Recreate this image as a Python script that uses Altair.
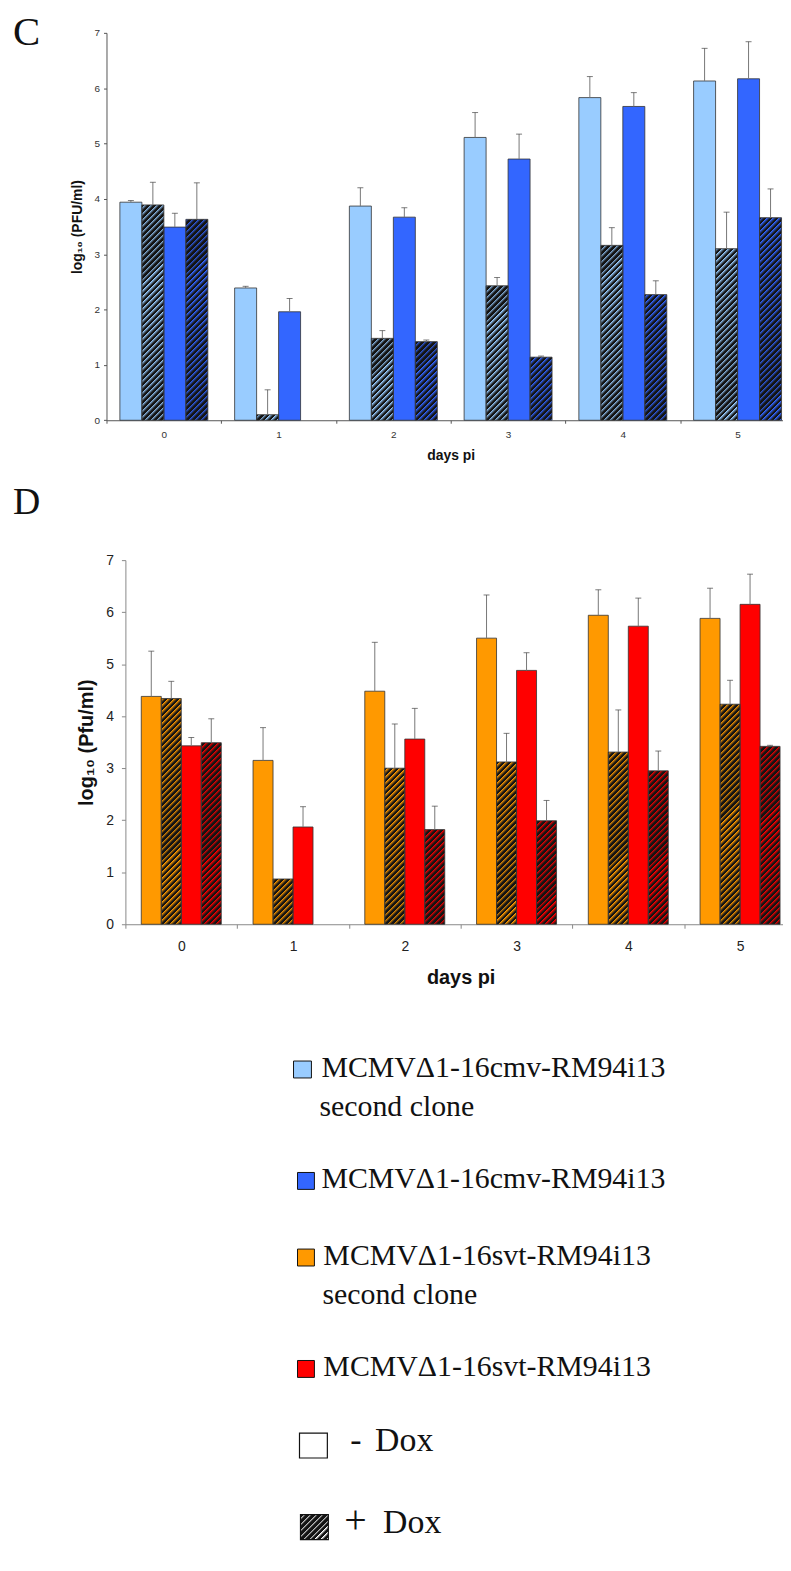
import altair as alt

# ---------------- data ----------------
DAYS = ["0", "1", "2", "3", "4", "5"]

C_SERIES = ["cmv second clone - Dox", "cmv second clone + Dox", "cmv - Dox", "cmv + Dox"]
C_COLORS = ["#99CCFF", "#99CCFF", "#3366FF", "#3366FF"]
C_HATCHED = [False, True, False, True]
C_VALUES = [
    [3.94, 2.39, 3.87, 5.11, 5.83, 6.13],
    [3.89, 0.10, 1.48, 2.43, 3.16, 3.10],
    [3.49, 1.96, 3.67, 4.72, 5.67, 6.17],
    [3.63, None, 1.42, 1.14, 2.27, 3.66],
]
C_ERRORS = [
    [0.03, 0.03, 0.33, 0.45, 0.38, 0.59],
    [0.41, 0.45, 0.14, 0.15, 0.32, 0.66],
    [0.25, 0.24, 0.17, 0.45, 0.25, 0.67],
    [0.66, None, 0.03, 0.02, 0.25, 0.52],
]

D_SERIES = ["svt second clone - Dox", "svt second clone + Dox", "svt - Dox", "svt + Dox"]
D_COLORS = ["#FF9900", "#FF9900", "#FF0000", "#FF0000"]
D_HATCHED = [False, True, False, True]
D_VALUES = [
    [4.38, 3.15, 4.48, 5.50, 5.94, 5.88],
    [4.34, 0.87, 3.00, 3.12, 3.31, 4.23],
    [3.43, 1.87, 3.56, 4.88, 5.73, 6.15],
    [3.49, None, 1.82, 1.99, 2.95, 3.42],
]
D_ERRORS = [
    [0.87, 0.63, 0.94, 0.83, 0.49, 0.58],
    [0.33, None, 0.85, 0.55, 0.81, 0.46],
    [0.16, 0.39, 0.59, 0.34, 0.54, 0.58],
    [0.46, None, 0.45, 0.39, 0.38, 0.02],
]

LEGEND_LABELS = ["MCMVΔ1-16cmv-RM94i13", "MCMVΔ1-16cmv-RM94i13",
                 "MCMVΔ1-16svt-RM94i13", "MCMVΔ1-16svt-RM94i13"]
LEGEND_SECOND = [True, False, True, False]
LEGEND_COLORS = ["#99CCFF", "#3366FF", "#FF9900", "#FF0000"]
SECOND_LINE = "second clone"
DOX_LABELS = ["-", "+"]

AXIS_FONT = "Liberation Sans"
SERIF = "Liberation Serif"

HATCH_PERIOD = 6.0      # px, horizontal stripe spacing
HATCH_DARK = 0.36       # fraction of the period that is dark
HATCH_SEG = 36.0        # px, hatched bars are painted in short pieces (gradient precision)


def hatch(base, w, h, phase=0.0, period=HATCH_PERIOD, frac=HATCH_DARK, dark="#141414"):
    """'/' hatching as a linear gradient with hard stops (45 degrees in pixel space)."""
    h = max(h, 0.5)
    L = w + h
    stops = [{"offset": 0, "color": base}]
    s = (phase % period) - period
    while s < L:
        a, b = max(s, 0.0), min(s + frac * period, L)
        if b > 0:
            stops += [{"offset": round(a / L, 5), "color": dark},
                      {"offset": round(b / L, 5), "color": dark},
                      {"offset": round(b / L, 5), "color": base}]
        s += period
    d = w * w + h * h
    return {"gradient": "linear", "x1": 0, "y1": 0,
            "x2": round(w * L / d, 6), "y2": round(h * L / d, 6), "stops": stops}


def one():
    return alt.Data(values=[{}])


def panel(letter, series, colors, hatched, values, errors, ytitle, g):
    W, H, R, inset = g["W"], g["H"], g["R"], g["inset"]
    n_days = len(DAYS)
    band = R / n_days                      # pixels per day
    frac = g["bw"] / band                  # bar width as fraction of a day
    ppu = H / 7.0                          # pixels per log unit
    visible = W - inset                    # visible plot width (right side cropped)

    solid, pieces, outlines, errs = [], [], [], []
    for si, s in enumerate(series):
        for di, d in enumerate(DAYS):
            v = values[si][di]
            if v is None:
                continue
            xc = di + (si - (len(series) - 1) / 2) * frac
            outlines.append({"day": d, "series": s, "x": xc, "val": v})
            if hatched[si]:
                hpx = v * ppu
                yb = 0.0
                while yb < hpx - 1e-6:
                    yt = min(yb + HATCH_SEG, hpx)
                    ytd = min(yt + 1.0, hpx)
                    pieces.append({"day": d, "series": s, "x": xc,
                                   "lo": yb / ppu, "hi": ytd / ppu,
                                   "fill": hatch(colors[si], g["bw"], ytd - yb, phase=ytd)})
                    yb = yt
            else:
                solid.append({"day": d, "series": s, "x": xc, "val": v, "fill": colors[si]})
            e = errors[si][di]
            if e:
                errs.append({"day": d, "series": s, "x": xc, "val": v, "top": round(v + e, 3)})

    xscale = alt.Scale(domain=[-0.5, -0.5 + n_days * visible / R], range=[inset, W],
                       nice=False, zero=False, padding=0)
    yscale = alt.Scale(domain=[0, 7], nice=False, zero=True, padding=0)

    xaxis = alt.Axis(title="days pi", values=[i - 0.5 for i in range(n_days)],
                     labelExpr="format(datum.value + 0.5, 'd')", labelOffset=band / 2,
                     labelFlush=False, labelOverlap=False, grid=False,
                     domainColor=g["axis"], tickColor=g["axis"], tickSize=g["tick"],
                     labelPadding=g["lpx"], labelFont=AXIS_FONT, labelFontSize=g["lfs"],
                     labelColor=g["lab"], titleFont=AXIS_FONT, titleFontSize=g["tfs"],
                     titleFontWeight="bold", titleColor="#111", titleX=inset + R / 2,
                     titleY=g["xty"], titleBaseline="middle", titleAlign="center")
    yaxis = alt.Axis(title=ytitle, values=list(range(8)), grid=False, domainColor=g["axis"],
                     tickColor=g["axis"], tickSize=g["tick"], labelPadding=g["lpy"],
                     labelFont=AXIS_FONT, labelFontSize=g["lfs"], labelColor=g["lab"],
                     labelFlush=False, offset=-inset,
                     titleFont=AXIS_FONT, titleFontSize=g["tfs"], titleFontWeight="bold",
                     titleColor="#111", titleX=g["ytx"], titleY=H / 2, titleAngle=270,
                     titleBaseline="middle", titleAlign="center")

    X = alt.X("x:Q", scale=xscale, axis=xaxis)

    solid_layer = alt.Chart(alt.Data(values=solid)).mark_bar(
        width=g["bw"], strokeWidth=0).encode(
        x=X,
        y=alt.Y("val:Q", scale=yscale, axis=yaxis),
        fill=alt.Fill("fill:N", scale=None),
    )
    hatch_layer = alt.Chart(alt.Data(values=pieces)).mark_bar(
        width=g["bw"], strokeWidth=0).encode(
        x=X,
        y=alt.Y("hi:Q", scale=yscale, axis=yaxis),
        y2="lo:Q",
        fill=alt.Fill("fill:N", scale=None),
    )
    outline_layer = alt.Chart(alt.Data(values=outlines)).mark_bar(
        width=g["bw"], fillOpacity=0, stroke="#333333", strokeWidth=0.8).encode(
        x=X,
        y=alt.Y("val:Q", scale=yscale, axis=yaxis),
    )
    err_layer = alt.Chart(alt.Data(values=errs)).mark_rule(
        color="#777777", strokeWidth=1).encode(
        x=X,
        y=alt.Y("val:Q", scale=yscale, axis=yaxis),
        y2="top:Q",
    )
    cap_layer = alt.Chart(alt.Data(values=errs)).mark_tick(
        color="#444444", orient="horizontal", size=6, thickness=1).encode(
        x=X,
        y=alt.Y("top:Q", scale=yscale, axis=yaxis),
    )
    letter_layer = alt.Chart(one()).mark_text(
        text=letter, align="left", baseline="alphabetic", font=SERIF,
        fontSize=g["lsize"], color="#111").encode(
        x=alt.value(g["lx"]), y=alt.value(g["ly"]))

    return alt.layer(solid_layer, hatch_layer, outline_layer, err_layer, cap_layer,
                     letter_layer).properties(width=W, height=H)


# common plot origin for all stacked views: page x = 107
GC = dict(W=680, H=389.4, R=692, inset=0, bw=22.1, tick=3, axis="#555555", lab="#333333",
          lpx=6, lpy=4, lfs=10, tfs=14, xty=35.3, ytx=-29,
          lsize=41, lx=-94, ly=12.7)
GD = dict(W=680, H=366, R=674, inset=19, bw=20.1, tick=4, axis="#888888", lab="#222222",
          lpx=11, lpy=8, lfs=14, tfs=20, xty=54, ytx=-39,
          lsize=38, lx=-94, ly=-46.7)

chartC = panel("C", C_SERIES, C_COLORS, C_HATCHED, C_VALUES, C_ERRORS, "log₁₀ (PFU/ml)", GC)
chartD = panel("D", D_SERIES, D_COLORS, D_HATCHED, D_VALUES, D_ERRORS, "log₁₀ (Pfu/ml)", GD)

# ---------------- legend (page coordinates converted to view coordinates) -------------
LX0, LY0 = 105, 1005.5


def px(x):
    return x - LX0


def py(y):
    return y - LY0


leg_layers = [alt.Chart(one()).mark_rule(strokeOpacity=0, strokeWidth=0).encode(
    x=alt.value(-94), y=alt.value(0), y2=alt.value(1))]

sq_x = [(293, 311), (297, 314), (297, 314), (297, 314)]
row_base = [1074, 1186, 1263, 1375]
text_x = [321, 321, 323, 323]
second_x = [319, None, 322, None]
for i, lab in enumerate(LEGEND_LABELS):
    b = row_base[i]
    leg_layers.append(alt.Chart(one()).mark_rect(
        fill=LEGEND_COLORS[i], stroke="#111", strokeWidth=1).encode(
        x=alt.value(px(sq_x[i][0])), x2=alt.value(px(sq_x[i][1])),
        y=alt.value(py(b - 16)), y2=alt.value(py(b + 1))))
    leg_layers.append(alt.Chart(one()).mark_text(
        text=lab, align="left", baseline="alphabetic", font=SERIF, fontSize=30,
        color="#111").encode(x=alt.value(px(text_x[i])), y=alt.value(py(b))))
    if LEGEND_SECOND[i]:
        leg_layers.append(alt.Chart(one()).mark_text(
            text=SECOND_LINE, align="left", baseline="alphabetic", font=SERIF, fontSize=30,
            color="#111").encode(x=alt.value(px(second_x[i])), y=alt.value(py(b + 39))))

dox_rows = [1450, 1532]
dox_sq = [(299, 327), (300, 328)]
sign_x = [350, 344]
dox_x = [375, 383]
for i, sign in enumerate(DOX_LABELS):
    b = dox_rows[i]
    x1, x2 = dox_sq[i]
    fill = "#ffffff" if i == 0 else hatch("#ffffff", x2 - x1, 25, frac=0.5)
    leg_layers.append(alt.Chart(one()).mark_rect(
        fill=fill, stroke="#111", strokeWidth=1.2).encode(
        x=alt.value(px(x1)), x2=alt.value(px(x2)),
        y=alt.value(py(b - 18)), y2=alt.value(py(b + 7))))
    leg_layers.append(alt.Chart(one()).mark_text(
        text=sign, align="left", baseline="alphabetic", font=SERIF,
        fontSize=34 if i == 0 else 40, color="#111").encode(
        x=alt.value(px(sign_x[i])), y=alt.value(py(b))))
    leg_layers.append(alt.Chart(one()).mark_text(
        text="Dox", align="left", baseline="alphabetic", font=SERIF, fontSize=34,
        color="#111").encode(x=alt.value(px(dox_x[i])), y=alt.value(py(b))))

legend = alt.layer(*leg_layers).properties(width=600, height=530)

chart = alt.vconcat(chartC, chartD, legend, spacing=21).properties(
    padding={"left": 5, "top": 0, "right": 0, "bottom": 5}
).configure(font=AXIS_FONT).configure_view(stroke=None)

chart.save("out.html", embed_options={"renderer": "svg", "actions": False})
